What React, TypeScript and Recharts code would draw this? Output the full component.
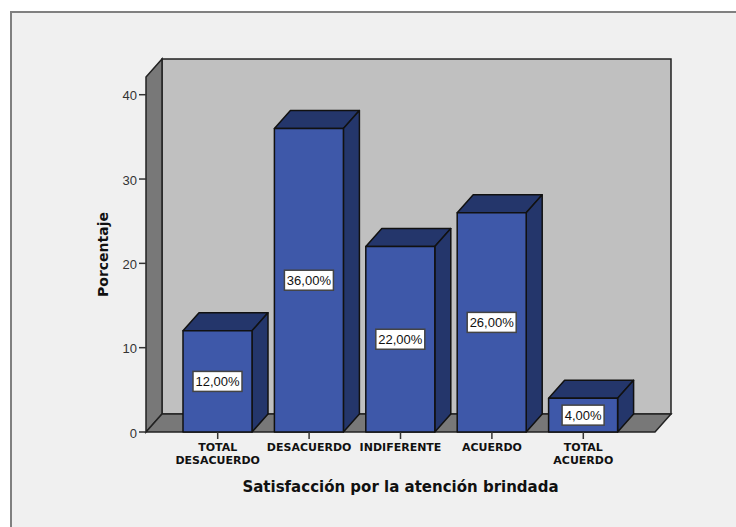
import React from "react";
import { BarChart, Bar, XAxis, YAxis, LabelList, Customized, usePlotArea } from "recharts";

const categories = ["TOTAL DESACUERDO", "DESACUERDO", "INDIFERENTE", "ACUERDO", "TOTAL ACUERDO"];
const percentages = [12, 36, 22, 26, 4];
const yTicks = [0, 10, 20, 30, 40];
const yMax = 42.1;

const DEPTH_X = 16;
const DEPTH_Y = 18;
const EDGE = "#111111";

const data = categories.map((name, i) => ({ name, value: percentages[i] }));

// back wall, side wall and floor of the 3D box
function Box() {
  const area = usePlotArea();
  if (!area) return null;
  const { x, y, width, height } = area;
  const right = x + width;
  const bottom = y + height;
  const pts = (p: number[][]) => p.map((q) => q.join(",")).join(" ");
  return (
    <g>
      <rect x={x + DEPTH_X} y={y - DEPTH_Y} width={width} height={height} fill="#c0c0c0" stroke="#222222" strokeWidth={1.5} />
      <polygon
        points={pts([[x, y], [x + DEPTH_X, y - DEPTH_Y], [x + DEPTH_X, bottom - DEPTH_Y], [x, bottom]])}
        fill="#787878"
        stroke="#222222"
        strokeWidth={1.5}
      />
      <polygon
        points={pts([[x, bottom], [x + DEPTH_X, bottom - DEPTH_Y], [right + DEPTH_X, bottom - DEPTH_Y], [right, bottom]])}
        fill="#787878"
        stroke="#222222"
        strokeWidth={1.5}
      />
    </g>
  );
}

function Bar3D(props: any) {
  const { x, y, width, height } = props;
  const r = x + width;
  const b = y + height;
  const pts = (p: number[][]) => p.map((q) => q.join(",")).join(" ");
  return (
    <g stroke={EDGE} strokeWidth={1.5} strokeLinejoin="round">
      <polygon points={pts([[x, y], [x + DEPTH_X, y - DEPTH_Y], [r + DEPTH_X, y - DEPTH_Y], [r, y]])} fill="#24366b" />
      <polygon points={pts([[r, y], [r + DEPTH_X, y - DEPTH_Y], [r + DEPTH_X, b - DEPTH_Y], [r, b]])} fill="#24366b" />
      <rect x={x} y={y} width={width} height={height} fill="#3e58a9" />
    </g>
  );
}

function ValueLabel(props: any) {
  const { x, y, width, height, value } = props;
  const cx = x + width / 2;
  const cy = y + height / 2;
  const text = `${value},00%`;
  const w = value < 10 ? 42 : 49;
  return (
    <g>
      <rect x={cx - w / 2} y={cy - 10} width={w} height={20} fill="#ffffff" stroke="#444444" strokeWidth={1.5} />
      <text x={cx} y={cy + 4.5} textAnchor="middle" fontFamily="Liberation Sans" fontSize={13} fill="#111111">
        {text}
      </text>
    </g>
  );
}

function CategoryTick(props: any) {
  const { x, y, payload } = props;
  const words = String(payload.value).split(" ");
  return (
    <text x={x} textAnchor="middle" fontFamily="DejaVu Sans" fontWeight="bold" fontSize={11} fill="#111111">
      {words.map((w, i) => (
        <tspan key={w} x={x} y={y + 10 + i * 12.5}>
          {w}
        </tspan>
      ))}
    </text>
  );
}

export default function App() {
  return (
    <div style={{ position: "absolute", left: 0, top: 0, width: 736, height: 527, background: "#ffffff", overflow: "hidden" }}>
      <div
        style={{
          position: "absolute",
          left: 10,
          top: 11,
          width: 726,
          height: 516,
          background: "#f0f0f0",
          borderLeft: "2px solid #808080",
          borderTop: "2px solid #808080",
          boxSizing: "border-box",
        }}
      />
      <div style={{ position: "absolute", left: 0, top: 0 }}>
        <BarChart
          width={736}
          height={527}
          data={data}
          margin={{ top: 77, right: 81, bottom: 0, left: 0 }}
          barSize={69}
        >
          <Customized component={<Box />} />
          <XAxis
            dataKey="name"
            interval={0}
            padding={{ left: 26, right: 26 }}
            axisLine={false}
            tickSize={7}
            tickLine={{ stroke: "#333333", strokeWidth: 1.5 }}
            tick={<CategoryTick />}
            height={95}
            label={{
              value: "Satisfacción por la atención brindada",
              position: "insideTop",
              dy: 44,
              fontFamily: "DejaVu Sans",
              fontWeight: "bold",
              fontSize: 15,
              fill: "#111111",
            }}
          />
          <YAxis
            type="number"
            domain={[0, yMax]}
            ticks={yTicks}
            interval={0}
            width={146}
            axisLine={false}
            tickSize={7}
            tickLine={{ stroke: "#333333", strokeWidth: 1.5 }}
            tick={{ fontFamily: "Liberation Sans", fontSize: 13, fill: "#333333", dy: 1 }}
            label={{
              value: "Porcentaje",
              angle: -90,
              position: "insideLeft",
              dx: 98,
              textAnchor: "middle",
              fontFamily: "DejaVu Sans",
              fontWeight: "bold",
              fontSize: 14,
              fill: "#111111",
            }}
          />
          <Bar dataKey="value" shape={<Bar3D />} isAnimationActive={false}>
            <LabelList dataKey="value" content={<ValueLabel />} />
          </Bar>
        </BarChart>
      </div>
    </div>
  );
}
